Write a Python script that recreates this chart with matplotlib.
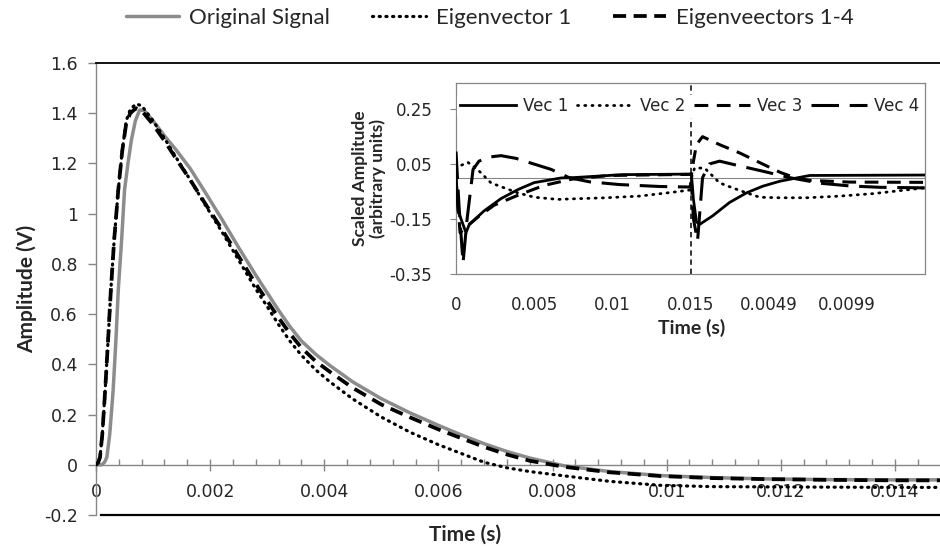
import matplotlib
matplotlib.use("Agg")
import matplotlib.pyplot as plt
from matplotlib.ticker import MultipleLocator, FixedLocator, FixedFormatter

# ---------------- main chart data (time in ms, amplitude in V) ----------------
orig_t = [0, 0.1, 0.15, 0.19, 0.24, 0.3, 0.35, 0.39, 0.45, 0.5, 0.56, 0.62, 0.69, 0.765, 0.85,
          1.0, 1.2, 1.4, 1.65, 1.9, 2.2, 2.5, 2.8, 3.0, 3.2, 3.4, 3.6, 3.85, 4.1, 4.5, 5.0, 5.5,
          6.0, 6.4, 6.8, 7.2, 7.6, 8.2, 9.0, 9.9, 10.8, 11.7, 12.8, 14.0, 14.8]
orig_v = [0, 0.0, 0.01, 0.03, 0.12, 0.295, 0.5, 0.695, 0.9, 1.094, 1.2, 1.293, 1.37, 1.413, 1.41,
          1.37, 1.31, 1.255, 1.18, 1.09, 0.98, 0.865, 0.755, 0.685, 0.615, 0.55, 0.493, 0.44, 0.395, 0.33, 0.263, 0.207,
          0.157, 0.119, 0.084, 0.053, 0.027, -0.004, -0.027, -0.043, -0.051, -0.056, -0.059, -0.06, -0.06]

eig1_t = [0, 0.04, 0.07, 0.11, 0.16, 0.21, 0.26, 0.32, 0.39, 0.46, 0.53, 0.6, 0.7, 0.8,
          1.0, 1.2, 1.4, 1.65, 1.9, 2.2, 2.5, 2.8, 3.0, 3.2, 3.4, 3.6, 3.85, 4.1, 4.5, 5.0, 5.5,
          6.0, 6.4, 6.8, 7.2, 7.6, 8.2, 9.0, 9.9, 10.8, 11.7, 12.8, 14.0, 14.8]
eig1_v = [0, 0.01, 0.03, 0.12, 0.295, 0.49, 0.695, 0.9, 1.094, 1.25, 1.37, 1.415, 1.437, 1.43,
          1.37, 1.30, 1.225, 1.135, 1.04, 0.93, 0.815, 0.70, 0.63, 0.558, 0.492, 0.436, 0.378, 0.33, 0.262, 0.19, 0.13,
          0.08, 0.045, 0.01, -0.012, -0.027, -0.044, -0.066, -0.082, -0.087, -0.088, -0.089, -0.09, -0.09]

eig4_t = [0, 0.04, 0.07, 0.11, 0.16, 0.21, 0.26, 0.32, 0.39, 0.46, 0.53, 0.6, 0.7, 0.8,
          1.0, 1.2, 1.4, 1.65, 1.9, 2.2, 2.5, 2.8, 3.0, 3.2, 3.4, 3.6, 3.85, 4.1, 4.5, 5.0, 5.5,
          6.0, 6.4, 6.8, 7.2, 7.6, 8.2, 9.0, 9.9, 10.8, 11.7, 12.8, 14.0, 14.8]
eig4_v = [0, 0.01, 0.03, 0.12, 0.295, 0.49, 0.695, 0.9, 1.094, 1.25, 1.36, 1.40, 1.42, 1.41,
          1.355, 1.29, 1.22, 1.135, 1.045, 0.94, 0.83, 0.72, 0.653, 0.585, 0.522, 0.466, 0.412, 0.37, 0.306, 0.24, 0.189,
          0.141, 0.106, 0.071, 0.041, 0.016, -0.008, -0.03, -0.045, -0.053, -0.057, -0.06, -0.062, -0.062]

# ---------------- inset data (concatenated time axis in ms, scaled amplitude) ----------------
vec1_t = [0, 0.13, 0.64, 0.85, 1.79, 2.88, 3.97, 5.0, 6.73, 7.44, 10.64, 14.94,
          15.06, 15.19, 15.38, 15.58, 16.41, 17.5, 18.59, 19.62, 20.71, 21.79, 22.63, 30.0]
vec1_v = [0.0, -0.12, -0.2, -0.17, -0.121, -0.076, -0.043, -0.018, -0.001, 0.0, 0.011, 0.013,
          0.011, -0.08, -0.16, -0.17, -0.139, -0.09, -0.055, -0.031, -0.013, -0.001, 0.008, 0.0096]

vec2_t = [0, 0.19, 0.75, 1.39, 2.24, 3.08, 3.95, 5.0, 6.52, 7.44, 9.6, 11.73, 13.85, 14.94,
          15.06, 15.26, 15.9, 16.86, 17.69, 18.57, 19.42, 20.71, 22.42, 24.55, 26.67, 30.0]
vec2_v = [0.03, 0.041, 0.056, 0.029, -0.019, -0.037, -0.055, -0.071, -0.079, -0.077, -0.073, -0.067, -0.053, -0.045,
          0.0, 0.035, 0.035, -0.019, -0.037, -0.055, -0.071, -0.073, -0.073, -0.067, -0.058, -0.037]

vec3_t = [0, 0.26, 0.64, 1.47, 2.44, 4.04, 5.64, 7.44, 9.81, 14.94,
          15.06, 15.19, 15.38, 15.77, 16.86, 18.14, 19.42, 20.71, 21.67, 22.63, 25.19, 30.0]
vec3_v = [0.0, -0.2, -0.18, -0.14, -0.10, -0.062, -0.028, -0.005, 0.008, 0.012,
          0.01, 0.06, 0.12, 0.149, 0.12, 0.09, 0.055, 0.02, 0.0, -0.01, -0.016, -0.017]

vec4_t = [0, 0.19, 0.45, 0.71, 1.09, 1.47, 2.12, 2.88, 3.85, 4.68, 6.09, 7.24, 8.53, 10.45, 13.01, 14.94,
          15.06, 15.19, 15.45, 15.77, 16.22, 16.86, 17.82, 19.74, 21.35, 23.27, 25.19, 27.11, 30.0]
vec4_v = [0.095, -0.1, -0.31, -0.15, 0.03, 0.06, 0.075, 0.08, 0.07, 0.055, 0.03, 0.0, -0.015, -0.025, -0.032, -0.034,
          -0.02, -0.15, -0.23, 0.0, 0.05, 0.06, 0.047, 0.022, 0.0, -0.02, -0.03, -0.035, -0.037]

inset_tick_pos = [0, 5, 10, 15, 20, 25]
inset_tick_labels = ['0', '0.005', '0.01', '0.015', '0.0049', '0.0099']
inset_split = 15

main_yticks = [-0.2, 0, 0.2, 0.4, 0.6, 0.8, 1, 1.2, 1.4, 1.6]
main_ytick_labels = ['-0.2', '0', '0.2', '0.4', '0.6', '0.8', '1', '1.2', '1.4', '1.6']
main_xticks = [0, 0.002, 0.004, 0.006, 0.008, 0.01, 0.012, 0.014]
main_xtick_labels = ['0', '0.002', '0.004', '0.006', '0.008', '0.01', '0.012', '0.014']
inset_yticks = [-0.35, -0.15, 0.05, 0.25]
inset_ytick_labels = ['-0.35', '-0.15', '0.05', '0.25']


def s(ms):
    return [v / 1000.0 for v in ms]


# ---------------- figure ----------------
W, H = 940, 548
fig = plt.figure(figsize=(W / 100, H / 100), dpi=100)
fig.patch.set_facecolor('white')

GRAY = '#868686'
TXT = '#262626'
NUM = 'DejaVu Sans'
CAL = 'Lato'

ax = fig.add_axes([96 / W, 1 - 515 / H, (W - 96) / W, (515 - 63) / H])
ax.plot(s(orig_t), orig_v, color='#8c8c8c', lw=2.5, solid_capstyle='round', solid_joinstyle='round',
        zorder=2, label='Original Signal')
ax.plot(s(eig1_t), eig1_v, color='black', lw=2.3, linestyle=(0, (0.35, 1.75)),
        dash_capstyle='round', zorder=3, label='Eigenvector 1')
ax.plot(s(eig4_t), eig4_v, color='black', lw=2.7, linestyle=(0, (3.5, 2.0)),
        zorder=4, label='Eigenveectors 1-4')

ax.set_xlim(0, 0.01479)
ax.set_ylim(-0.2, 1.6)
ax.spines['right'].set_visible(False)
ax.spines['top'].set_color('black')
ax.spines['top'].set_linewidth(1.3)
ax.spines['left'].set_color(GRAY)
ax.spines['left'].set_linewidth(1.0)
ax.spines['bottom'].set_position(('data', 0))
ax.spines['bottom'].set_color(GRAY)
ax.spines['bottom'].set_linewidth(1.0)
ax.axhline(-0.2, color='black', lw=1.6, xmin=0.006, zorder=5, clip_on=False)

ax.yaxis.set_major_locator(FixedLocator(main_yticks))
ax.yaxis.set_major_formatter(FixedFormatter(main_ytick_labels))
ax.xaxis.set_major_locator(FixedLocator(main_xticks))
ax.xaxis.set_major_formatter(FixedFormatter(main_xtick_labels))
ax.xaxis.set_minor_locator(MultipleLocator(0.0004))
ax.tick_params(axis='y', direction='out', length=6, width=1, color=GRAY, labelsize=12.5, pad=7,
               labelcolor=TXT)
ax.tick_params(axis='x', which='major', direction='inout', length=8, width=1, color=GRAY,
               labelsize=12.5, pad=9, labelcolor=TXT)
ax.tick_params(axis='x', which='minor', direction='in', length=4, width=1, color=GRAY)
for lab in ax.get_xticklabels() + ax.get_yticklabels():
    lab.set_family(NUM)

ax.set_ylabel('Amplitude (V)', fontsize=15, fontweight='bold', family=CAL, color=TXT)
ax.yaxis.set_label_coords(-(96 - 37) / (W - 96), 0.5)
ax.set_xlabel('Time (s)', fontsize=15, fontweight='bold', family=CAL, color=TXT)
ax.xaxis.set_label_coords((465 - 96) / (W - 96), -(525 - 515) / (515 - 63))

leg = fig.legend(loc='center', bbox_to_anchor=(490 / W, 1 - 18 / H), ncol=3, frameon=False,
                 prop={'family': CAL, 'size': 16}, handlelength=2.4, handletextpad=0.45,
                 columnspacing=1.9, borderpad=0)
for t in leg.get_texts():
    t.set_color(TXT)

# ---------------- inset ----------------
axi = fig.add_axes([456 / W, 1 - 274 / H, (925 - 456) / W, (274 - 83) / H])
axi.set_facecolor('white')
axi.plot(s(vec1_t), vec1_v, color='black', lw=2.0, label='Vec 1', zorder=5)
axi.plot(s(vec2_t), vec2_v, color='black', lw=2.0, linestyle=(0, (0.4, 2.2)),
         dash_capstyle='round', label='Vec 2', zorder=4)
axi.plot(s(vec3_t), vec3_v, color='black', lw=2.2, linestyle=(0, (4.5, 2.8)), label='Vec 3', zorder=3)
axi.plot(s(vec4_t), vec4_v, color='black', lw=2.2, linestyle=(0, (9, 3.5)), label='Vec 4', zorder=3)
axi.axhline(0, color=GRAY, lw=0.8, zorder=1)
axi.axvline(inset_split / 1000.0, color='black', lw=1.1, linestyle=(0, (3.5, 2.5)), zorder=2)

axi.set_xlim(0, 0.030)
axi.set_ylim(-0.35, 0.344)
for sp in axi.spines.values():
    sp.set_color(GRAY)
    sp.set_linewidth(0.9)
axi.yaxis.set_major_locator(FixedLocator(inset_yticks))
axi.yaxis.set_major_formatter(FixedFormatter(inset_ytick_labels))
axi.xaxis.set_major_locator(FixedLocator(s(inset_tick_pos)))
axi.xaxis.set_major_formatter(FixedFormatter(inset_tick_labels))
axi.tick_params(axis='y', direction='out', length=4, color=GRAY, labelsize=12, pad=13,
                labelcolor=TXT)
axi.tick_params(axis='x', length=0, labelsize=12, pad=16, labelcolor=TXT)
for lab in axi.get_xticklabels() + axi.get_yticklabels():
    lab.set_family(NUM)

axi.set_ylabel('Scaled Amplitude\n(arbitrary units)', fontsize=12.5, fontweight='bold', family=CAL,
               color=TXT, linespacing=1.1)
axi.yaxis.set_label_coords(-(456 - 386) / (925 - 456), 0.5)
axi.set_xlabel('Time (s)', fontsize=14, fontweight='bold', family=CAL, color=TXT)
axi.xaxis.set_label_coords((692 - 456) / (925 - 456), -(319 - 274) / (274 - 83))

li = axi.legend(loc='center left', bbox_to_anchor=(457 / W, 1 - 106 / H),
                bbox_transform=fig.transFigure, ncol=4, frameon=True, facecolor='white',
                edgecolor='none', framealpha=1, prop={'family': NUM, 'size': 12},
                handlelength=3.4, handletextpad=0.4, columnspacing=0.5, borderpad=0.15,
                borderaxespad=0)
for t in li.get_texts():
    t.set_color(TXT)

fig.savefig('out.png', dpi=100, facecolor='white')
